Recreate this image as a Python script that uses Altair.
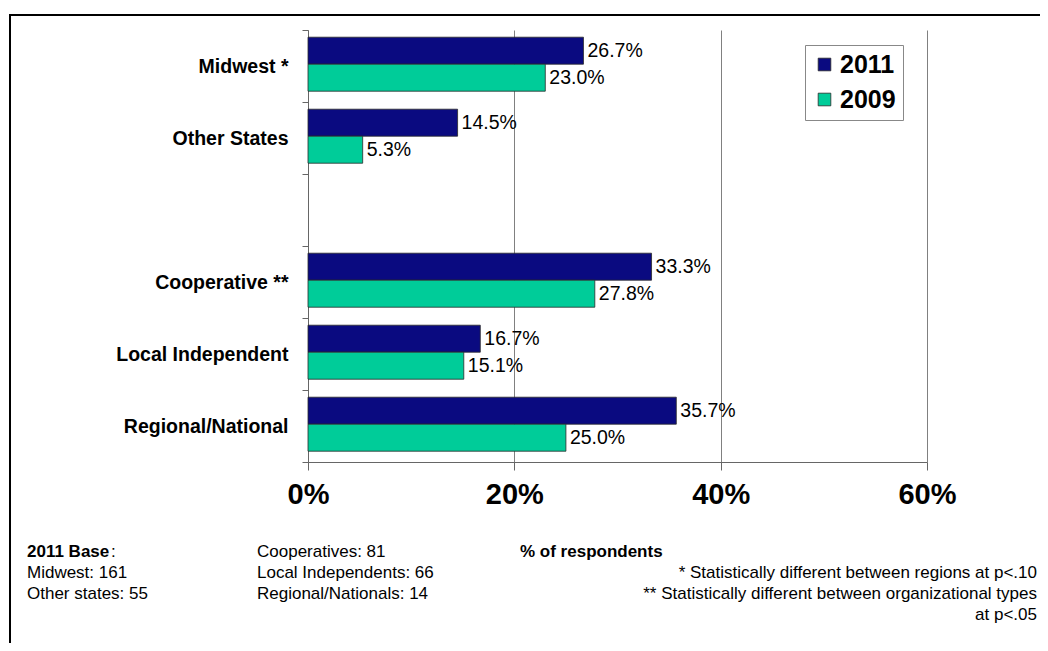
import altair as alt
import pandas as pd

categories = ["Midwest *", "Other States", " ", "Cooperative **", "Local Independent", "Regional/National"]
years = ["2011", "2009"]
values_2011 = [26.7, 14.5, None, 33.3, 16.7, 35.7]
values_2009 = [23.0, 5.3, None, 27.8, 15.1, 25.0]
x_ticks = [0, 20, 40, 60]
colors = ["#0A0A80", "#00CC99"]

foot_col1 = ["Midwest: 161", "Other states: 55"]
foot_col1_head = "2011 Base"
foot_col2 = ["Cooperatives: 81", "Local Independents: 66", "Regional/Nationals: 14"]
foot_col3_head = "% of respondents"
foot_col3 = ["* Statistically different between regions at p<.10",
             "** Statistically different between organizational types",
             "at p<.05"]

rows = []
for c, a, b in zip(categories, values_2011, values_2009):
    if a is not None:
        rows.append({"cat": c, "year": "2011", "v": a, "lbl": f"{a:.1f}%"})
    if b is not None:
        rows.append({"cat": c, "year": "2009", "v": b, "lbl": f"{b:.1f}%"})
df = pd.DataFrame(rows)

W, H = 619, 432
FONT = "Liberation Sans"

y_enc = alt.Y("cat:N", scale=alt.Scale(domain=categories, paddingInner=0, paddingOuter=0),
              axis=alt.Axis(title=None, tickBand="extent", labelFontSize=19.5, labelFontWeight="bold",
                            labelColor="black", labelFont=FONT, labelPadding=14, tickSize=6,
                            tickColor="#666666", domainColor="#666666", labelLimit=300))
yoff = alt.YOffset("year:N", sort=years,
                   scale=alt.Scale(domain=years, paddingInner=0, paddingOuter=0.333, align=0.4))

bars = alt.Chart(df).mark_bar(stroke="#2a2a2a", strokeWidth=0.8).encode(
    x=alt.X("v:Q", scale=alt.Scale(domain=[0, 60], nice=False),
            axis=alt.Axis(title=None, values=x_ticks, labelExpr="datum.value + '%'",
                          labelFontSize=29, labelFontWeight="bold", labelColor="black", labelFont=FONT,
                          labelPadding=10, tickSize=8, tickColor="#666666", domainColor="#666666",
                          labelFlush=False, labelOverlap=False,
                          grid=True, gridColor="#808080", gridWidth=1)),
    y=y_enc,
    yOffset=yoff,
    color=alt.Color("year:N", sort=years, scale=alt.Scale(domain=years, range=colors),
                    legend=alt.Legend(title=None, orient="none", legendX=497, legendY=15,
                                      direction="vertical", symbolType="square", symbolSize=160,
                                      symbolStrokeColor="#2a2a2a", symbolStrokeWidth=0.8,
                                      labelFontSize=25, labelFontWeight="bold", labelFont=FONT,
                                      labelColor="black", rowPadding=9, padding=7,
                                      strokeColor="#888888", fillColor="white", labelOffset=3)),
)

labels = alt.Chart(df).mark_text(align="left", baseline="middle", dx=4, fontSize=19.5,
                                 font=FONT, color="black").encode(
    x="v:Q", y=alt.Y("cat:N"), yOffset=yoff, text="lbl:N")


def note(text, x, y, align="left", bold=False):
    return alt.Chart(pd.DataFrame({"t": [text]})).mark_text(
        align=align, baseline="alphabetic", fontSize=17, font=FONT, color="black",
        fontWeight="bold" if bold else "normal").encode(
        x=alt.value(x), y=alt.value(y), text="t:N")


X0, Y0 = 308, 30
base_y = [557, 578, 599, 620]
notes = [note(foot_col1_head, 27 - X0, base_y[0] - Y0, bold=True),
         note(":", 111 - X0, base_y[0] - Y0)]
for i, t in enumerate(foot_col1):
    notes.append(note(t, 27 - X0, base_y[i + 1] - Y0))
for i, t in enumerate(foot_col2):
    notes.append(note(t, 257 - X0, base_y[i] - Y0))
notes.append(note(foot_col3_head, 520 - X0, base_y[0] - Y0, bold=True))
for i, t in enumerate(foot_col3):
    notes.append(note(t, 1037 - X0, base_y[i + 1] - Y0, align="right"))

frame_data = pd.DataFrame({"k": [0]})
frame_top = alt.Chart(frame_data).mark_rule(color="black", strokeWidth=2).encode(
    x=alt.value(9 - X0), x2=alt.value(1048 - X0), y=alt.value(15 - Y0))
frame_left = alt.Chart(frame_data).mark_rule(color="black", strokeWidth=2).encode(
    x=alt.value(10 - X0), y=alt.value(15 - Y0), y2=alt.value(651 - Y0))

chart = alt.layer(bars, labels, *notes, frame_top, frame_left).properties(
    width=W, height=H,
    autosize=alt.AutoSizeParams(type="none"),
    padding={"left": X0 - 8, "top": Y0 - 8, "right": 1032 - (X0 - 8) - W, "bottom": 635 - (Y0 - 8) - H},
    background="white",
).configure_view(stroke=None)

chart.save("out.html", embed_options={"renderer": "svg", "actions": False})
